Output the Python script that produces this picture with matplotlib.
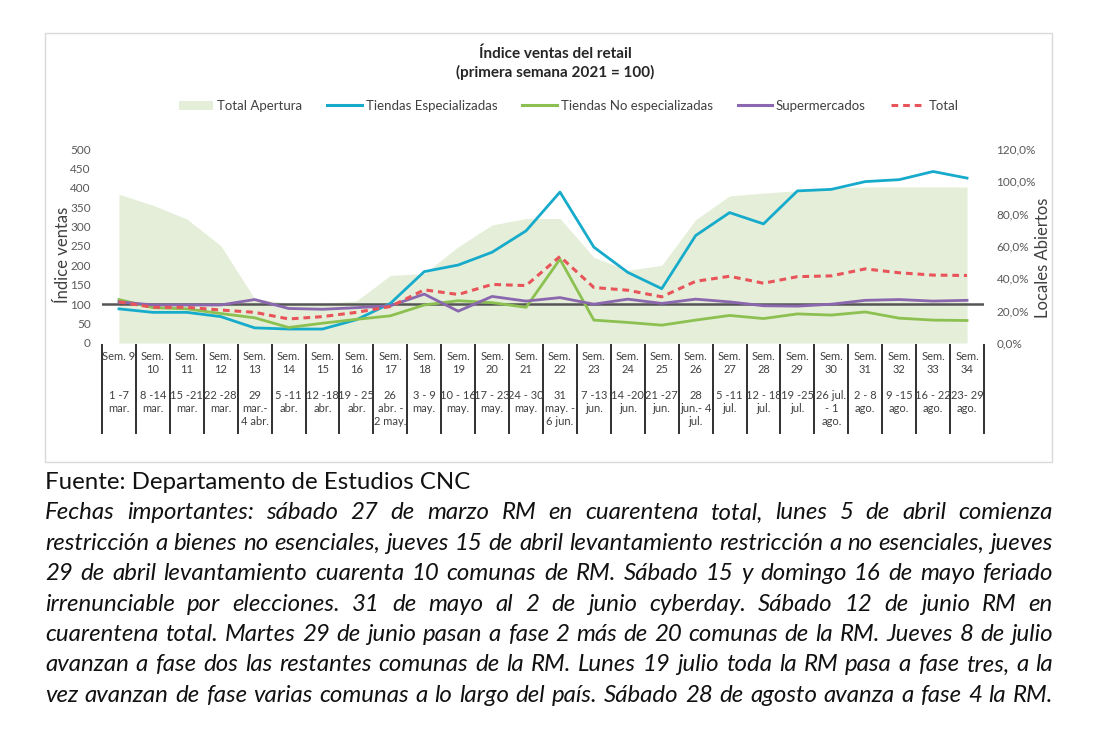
import matplotlib
matplotlib.use("Agg")
import matplotlib.pyplot as plt
import matplotlib.transforms as mtransforms
from matplotlib.patches import Rectangle, Patch
from matplotlib.lines import Line2D
from matplotlib.ticker import FuncFormatter
import numpy as np

# ---------------- data ----------------
week_labels = ["Sem. 9", "Sem.\n10", "Sem.\n11", "Sem.\n12", "Sem.\n13", "Sem.\n14", "Sem.\n15",
               "Sem.\n16", "Sem.\n17", "Sem.\n18", "Sem.\n19", "Sem.\n20", "Sem.\n21", "Sem.\n22",
               "Sem.\n23", "Sem.\n24", "Sem.\n25", "Sem.\n26", "Sem.\n27", "Sem.\n28", "Sem.\n29",
               "Sem.\n30", "Sem.\n31", "Sem.\n32", "Sem.\n33", "Sem.\n34"]
date_labels = ["1 -7\nmar.", "8 -14\nmar.", "15 -21\nmar.", "22 -28\nmar.", "29\nmar.-\n4 abr.",
               "5 -11\nabr.", "12 -18\nabr.", "19 - 25\nabr.", "26\nabr. -\n2 may.", "3 - 9\nmay.",
               "10 - 16\nmay.", "17 - 23\nmay.", "24 - 30\nmay.", "31\nmay. -\n6 jun.", "7 -13\njun.",
               "14 -20\njun.", "21 -27\njun.", "28\njun.- 4\njul.", "5 -11\njul.", "12 - 18\njul.",
               "19 -25\njul.", "26 jul.\n- 1\nago.", "2 - 8\nago.", "9 -15\nago.", "16 - 22\nago.",
               "23- 29\nago."]
total_apertura = [92.0, 85.2, 76.7, 60.2, 27.5, 24.6, 24.6, 26.0, 41.8, 43.0, 59.5, 73.0, 77.0,
                  77.0, 53.0, 45.0, 48.0, 76.3, 91.0, 92.7, 94.2, 96.0, 96.5, 96.5, 96.5, 96.5]
tiendas_esp = [88, 79, 79, 68, 39, 36, 36, 60, 102, 184, 201, 234, 289, 389, 247, 182, 140, 277,
               336, 307, 392, 396, 416, 421, 442, 425]
tiendas_no_esp = [112, 91, 88, 76, 65, 40, 51, 61, 70, 98, 109, 104, 92, 216, 59, 53, 46, 59,
                  71, 63, 75, 72, 80, 64, 59, 58]
supermercados = [106, 98, 98, 98, 112, 89, 87, 91, 96, 126, 82, 120, 108, 117, 100, 113, 102, 113,
                 106, 96, 95, 100, 110, 112, 108, 110]
total = [106, 92, 92, 85, 79, 62, 68, 79, 94, 137, 125, 151, 148, 223, 143, 136, 119, 159, 172,
         154, 171, 173, 191, 181, 175, 174]
base_line = 100

title_text = "Índice ventas del retail\n(primera semana 2021 = 100)"
footnote_source = "Fuente: Departamento de Estudios CNC"
footnote_lines = [
    "Fechas importantes: sábado 27 de marzo RM en cuarentena total, lunes 5 de abril comienza",
    "restricción a bienes no esenciales, jueves 15 de abril levantamiento restricción a no esenciales, jueves",
    "29 de abril levantamiento cuarenta 10 comunas de RM. Sábado 15 y domingo 16 de mayo feriado",
    "irrenunciable por elecciones. 31 de mayo al 2 de junio cyberday. Sábado 12 de junio RM en",
    "cuarentena total. Martes 29 de junio pasan a fase 2 más de 20 comunas de la RM. Jueves 8 de julio",
    "avanzan a fase dos las restantes comunas de la RM. Lunes 19 julio toda la RM pasa a fase tres, a la",
    "vez avanzan de fase varias comunas a lo largo del país. Sábado 28 de agosto avanza a fase 4 la RM.",
]

# ---------------- style ----------------
CHART_FONT = ["Lato", "DejaVu Sans"]
NOTE_FONT = ["Lato", "DejaVu Sans"]
plt.rcParams["font.family"] = CHART_FONT

C_AREA = "#E4EED8"
C_ESP = "#17ABCB"
C_NOESP = "#8CC151"
C_SUP = "#8A67AE"
C_TOT = "#E8545A"
C_BASE = "#555555"
C_TICK = "#595959"

W, H = 1100, 738
fig = plt.figure(figsize=(W / 100, H / 100), dpi=100)
fig.patch.set_facecolor("white")

def fx(px):
    return px / W

def fy(py):
    return 1 - py / H

ax_l, ax_r, ax_t, ax_b = 102, 984, 149, 343
ax = fig.add_axes([fx(ax_l), fy(ax_b), fx(ax_r - ax_l), (ax_b - ax_t) / H])
ax2 = ax.twinx()

n = len(week_labels)
x = np.arange(n) + 0.5

# area on right axis (fractions)
ax2.fill_between(x, 0, np.array(total_apertura) / 100.0, color=C_AREA, lw=0, zorder=1)
ax2.set_ylim(0, 1.2)
ax2.set_yticks(np.arange(0, 1.21, 0.2))
ax2.yaxis.set_major_formatter(FuncFormatter(lambda v, p: f"{v*100:.1f}%".replace(".", ",")))

ax.set_zorder(ax2.get_zorder() + 1)
ax.patch.set_visible(False)

ax.axhline(base_line, color=C_BASE, lw=1.8, zorder=2)
ax.plot(x, tiendas_esp, color=C_ESP, lw=2.0, zorder=3)
ax.plot(x, tiendas_no_esp, color=C_NOESP, lw=2.0, zorder=3)
ax.plot(x, supermercados, color=C_SUP, lw=2.0, zorder=3)
ax.plot(x, total, color=C_TOT, lw=2.2, ls=(0, (2.2, 1.6)), zorder=4)

ax.set_xlim(0, n)
ax.set_ylim(0, 500)
ax.set_yticks(np.arange(0, 501, 50))
ax.set_xticks([])

for a in (ax, ax2):
    for s in a.spines.values():
        s.set_visible(False)
    a.tick_params(axis="y", length=0, labelsize=8.5, labelcolor=C_TICK)
ax.tick_params(axis="y", pad=8)
ax2.tick_params(axis="y", pad=9)
ax2.set_xticks([])

ax.set_ylabel("Índice ventas", fontsize=12, color="#404040")
ax.yaxis.set_label_coords((71 - ax_l) / (ax_r - ax_l), (ax_b - 255) / (ax_b - ax_t))
ax2.set_ylabel("Locales Abiertos", fontsize=12, color="#404040")
ax2.yaxis.set_label_coords((1035 - ax_l) / (ax_r - ax_l), (ax_b - 258) / (ax_b - ax_t))

# category table below the axis
trans = mtransforms.blended_transform_factory(ax.transData, ax.transAxes)
hpx = ax_b - ax_t
def afrac(py):
    return (ax_b - py) / hpx

for i in range(n + 1):
    ax.plot([i, i], [afrac(345), afrac(433)], color="#303030", lw=1.4,
            transform=trans, clip_on=False)
for i in range(n):
    ax.text(i + 0.5, afrac(351), week_labels[i], transform=trans, ha="center", va="top",
            fontsize=8, color="#404040", linespacing=1.25)
    ax.text(i + 0.5, afrac(390), date_labels[i], transform=trans, ha="center", va="top",
            fontsize=8, color="#404040", linespacing=1.25)

# title
fig.text(fx(555), fy(63), title_text, ha="center", va="center", fontsize=11,
         fontweight="bold", color="#262626", linespacing=1.35)

# legend
handles = [Patch(facecolor=C_AREA, edgecolor="none"),
           Line2D([], [], color=C_ESP, lw=2.2),
           Line2D([], [], color=C_NOESP, lw=2.2),
           Line2D([], [], color=C_SUP, lw=2.2),
           Line2D([], [], color=C_TOT, lw=2.2, ls=(0, (2.2, 1.6)))]
labels = ["Total Apertura", "Tiendas Especializadas", "Tiendas No especializadas",
          "Supermercados", "Total"]
fig.legend(handles, labels, loc="center", bbox_to_anchor=(fx(569), fy(106)), ncol=5,
           frameon=False, fontsize=9.5, handlelength=2.6, handletextpad=0.3,
           columnspacing=1.9, labelcolor="#404040")

# chart frame
fig.patches.append(Rectangle((fx(45), fy(462)), fx(1052 - 45), (462 - 33) / H,
                             transform=fig.transFigure, fill=False, edgecolor="#D9D9D9",
                             lw=1.0))

# footnote
fig.canvas.draw()
renderer = fig.canvas.get_renderer()
x0, x1 = 45, 1053
probe = fig.text(0, 0, footnote_lines[1], family=NOTE_FONT, style="italic", fontsize=10)
wprobe = probe.get_window_extent(renderer).width
probe.remove()
note_size = 10 * 1000 / wprobe

base0 = 489
step = 30.4
fig.text(fx(x0), fy(base0), footnote_source, family=NOTE_FONT, fontsize=note_size,
         color="#111111", va="baseline", ha="left")
for k, line in enumerate(footnote_lines):
    yb = fy(base0 + step * (k + 1))
    words = line.split(" ")
    texts = [fig.text(0, yb, w, family=NOTE_FONT, style="italic", fontsize=note_size,
                      color="#111111", va="baseline", ha="left") for w in words]
    widths = [t.get_window_extent(renderer).width for t in texts]
    gap = (x1 - x0 - sum(widths)) / (len(words) - 1)
    xc = x0
    for t, wd in zip(texts, widths):
        t.set_x(fx(xc))
        xc += wd + gap

fig.savefig("out.png", dpi=100, facecolor="white")
